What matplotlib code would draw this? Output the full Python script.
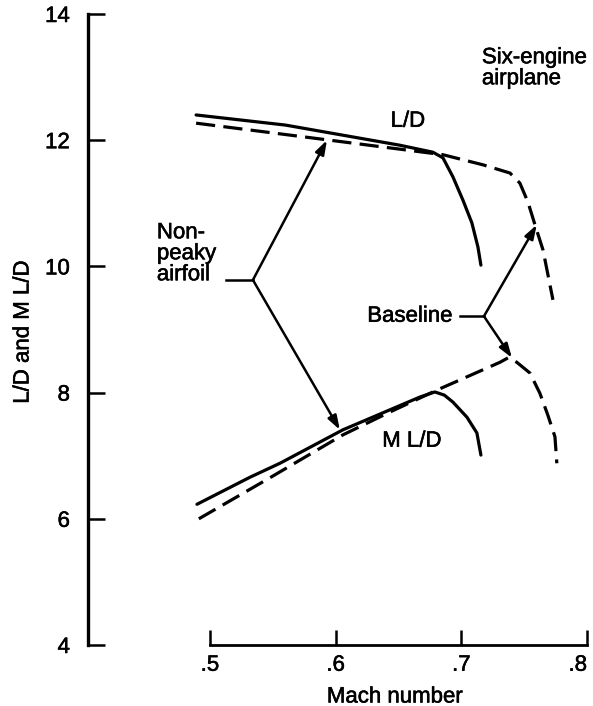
import matplotlib
matplotlib.use("Agg")
import matplotlib.pyplot as plt
import matplotlib.patheffects as pe

plt.rcParams['font.family'] = ['Liberation Sans', 'DejaVu Sans']

# L/D versus Mach number
ld_nonpeaky_m = [0.489, 0.560, 0.6512, 0.6774, 0.6854, 0.6933, 0.7013, 0.7084, 0.7132, 0.7156]
ld_nonpeaky_v = [12.40, 12.24, 11.92, 11.81, 11.72, 11.42, 11.05, 10.69, 10.31, 10.02]
ld_base_m = [0.489, 0.5955, 0.6854, 0.7172, 0.7387, 0.7466, 0.753, 0.7586, 0.765, 0.7729]
ld_base_v = [12.27, 12.00, 11.77, 11.61, 11.48, 11.32, 11.02, 10.66, 10.26, 9.47]

# M L/D versus Mach number
mld_nonpeaky_m = [0.4897, 0.532, 0.5557, 0.6058, 0.6671, 0.679, 0.6865, 0.6933, 0.7045, 0.7124,
                  0.7156]
mld_nonpeaky_v = [6.23, 6.66, 6.88, 7.41, 7.93, 8.01, 7.96, 7.85, 7.61, 7.36, 7.01]
mld_base_m = [0.4912, 0.5477, 0.6058, 0.643, 0.6806, 0.7307, 0.7371, 0.7442, 0.7546, 0.7625,
              0.7689, 0.7745, 0.776]
mld_base_v = [6.00, 6.65, 7.33, 7.69, 8.04, 8.48, 8.55, 8.48, 8.31, 7.99, 7.64, 7.30, 6.88]

x_ticks = [0.5, 0.6, 0.7, 0.8]
x_tick_labels = ['.5', '.6', '.7', '.8']
y_ticks = [4, 6, 8, 10, 12, 14]

fs = 16
ink = [pe.withStroke(linewidth=0.4, foreground='black')]

fig = plt.figure(figsize=(5.93, 7.06), dpi=100)
ax = fig.add_axes([88/593, 61/706, 499/593, 631/706])
ax.set_xlim(0.403, 0.8)
ax.set_ylim(4, 14)

lw = 2.3
dash = (0, (6.0, 2.6))
ax.plot(ld_nonpeaky_m, ld_nonpeaky_v, color='black', lw=lw, solid_capstyle='round',
        solid_joinstyle='round')
ax.plot(ld_base_m, ld_base_v, color='black', lw=lw, linestyle=dash)
ax.plot(mld_nonpeaky_m, mld_nonpeaky_v, color='black', lw=lw, solid_capstyle='round',
        solid_joinstyle='round')
ax.plot(mld_base_m, mld_base_v, color='black', lw=lw, linestyle=dash)

for s in ['top', 'right']:
    ax.spines[s].set_visible(False)
ax.spines['left'].set_linewidth(2.4)
ax.spines['bottom'].set_linewidth(2.0)
ax.spines['left'].set_bounds(4, 14)
ax.spines['bottom'].set_bounds(0.5, 0.8)

ax.set_xticks(x_ticks)
ax.set_xticklabels(x_tick_labels)
ax.set_yticks(y_ticks)
ax.tick_params(axis='y', direction='in', length=12, width=1.8, pad=13, labelsize=fs)
ax.tick_params(axis='x', direction='in', length=11, width=1.8, pad=7, labelsize=fs)
for lab in ax.get_xticklabels() + ax.get_yticklabels():
    lab.set_path_effects(ink)
ax.get_xticklabels()[-1].set_horizontalalignment('right')

fig.text(23/593, 1 - 332/706, 'L/D and M L/D', rotation=90, ha='center', va='center',
         fontsize=fs, path_effects=ink)
fig.text(395/593, 1 - 697/706, 'Mach number', ha='center', va='center', fontsize=fs,
         path_effects=ink)

ax.text(0.7164, 13.14, 'Six-engine\nairplane', ha='left', va='center', fontsize=fs,
        linespacing=1.0, path_effects=ink)
ax.text(0.6575, 12.30, 'L/D', ha='center', va='center', fontsize=fs, path_effects=ink)
ax.text(0.6607, 7.23, 'M L/D', ha='center', va='center', fontsize=fs, path_effects=ink)
ax.text(0.4578, 10.20, 'Non-\npeaky\nairfoil', ha='left', va='center', fontsize=fs,
        linespacing=1.0, path_effects=ink)
ax.text(0.6933, 9.21, 'Baseline', ha='right', va='center', fontsize=fs, path_effects=ink)

# leader lines and arrows
arr = dict(arrowstyle='-|>,head_length=0.6,head_width=0.2', color='black', lw=1.8,
           shrinkA=0, shrinkB=0, mutation_scale=14)
ax.plot([0.5125, 0.5342], [9.785, 9.785], color='black', lw=1.8)
ax.annotate('', xy=(0.5931, 12.0), xytext=(0.5342, 9.785), arrowprops=arr)
ax.annotate('', xy=(0.6034, 7.41), xytext=(0.5342, 9.785), arrowprops=arr)
ax.plot([0.6989, 0.718], [9.21, 9.21], color='black', lw=1.8)
ax.annotate('', xy=(0.760, 10.66), xytext=(0.718, 9.21), arrowprops=arr)
ax.annotate('', xy=(0.7403, 8.55), xytext=(0.718, 9.21), arrowprops=arr)

fig.savefig('out.png', dpi=100)
